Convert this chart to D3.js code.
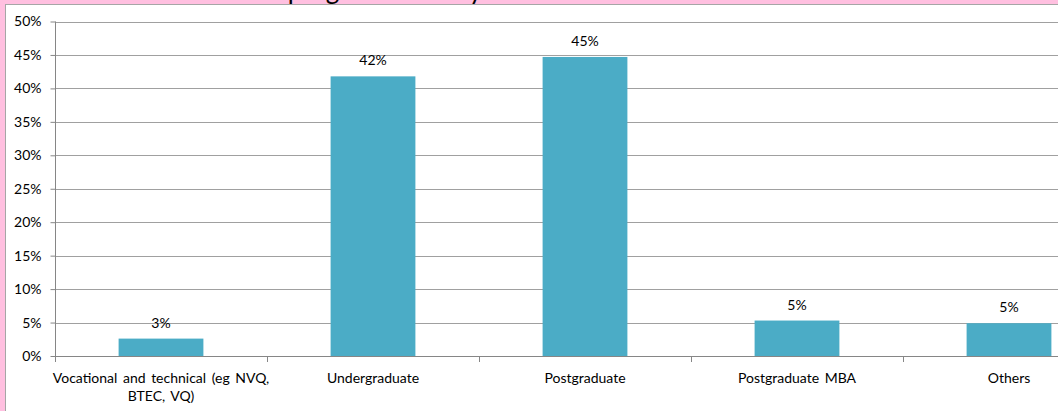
<!DOCTYPE html>
<html>
<head>
<meta charset="utf-8">
<script src="https://cdn.jsdelivr.net/npm/d3@7"></script>
<style>
  html, body { margin: 0; padding: 0; background: #FFC0E0; overflow: hidden; }
  svg { display: block; }
</style>
</head>
<body>
<svg id="chart" width="1058" height="411"></svg>
<script>
const titleText = "Current program of study";
const categories = ["Vocational and technical (eg NVQ, BTEC, VQ)", "Undergraduate", "Postgraduate", "Postgraduate MBA", "Others"];
const values = [0.026, 0.418, 0.447, 0.053, 0.049];
const valueLabels = ["3%", "42%", "45%", "5%", "5%"];
const yTicks = [0, 0.05, 0.10, 0.15, 0.20, 0.25, 0.30, 0.35, 0.40, 0.45, 0.50];

const FONT = "Lato, 'Open Sans', sans-serif";
const FS = 14;
const svg = d3.select("#chart");
const W = 1058, H = 411;

// chart area (white, with grey border)
svg.append("rect").attr("x", 5.5).attr("y", 4.5).attr("width", W + 20).attr("height", H + 20)
  .attr("fill", "#ffffff").attr("stroke", "#a6a6a6").attr("stroke-width", 1);

// title (mostly above the visible area, only descenders show, as in the reference)
const title = svg.append("text").attr("y", -1).attr("font-family", FONT).attr("font-size", 26).attr("fill", "#000");
const pre = title.append("tspan").text("Current ");
const preW = pre.node().getComputedTextLength();
title.append("tspan").text("program of study");
title.attr("x", 281 - preW);

const left = 55, step = 212, n = categories.length;
const x = d3.scaleBand().domain(categories).range([left, left + step * n]).paddingInner(0.6).paddingOuter(0.3);
const y = d3.scaleLinear().domain([0, 0.5]).range([356, 21.5]);

// gridlines
svg.append("g").selectAll("line").data(yTicks.filter(d => d > 0)).join("line")
  .attr("x1", left).attr("x2", W + 10)
  .attr("y1", d => Math.round(y(d)) + 0.5).attr("y2", d => Math.round(y(d)) + 0.5)
  .attr("stroke", "#a0a0a0").attr("stroke-width", 1);

// bars
svg.append("g").selectAll("rect").data(categories).join("rect")
  .attr("x", d => x(d)).attr("width", x.bandwidth())
  .attr("y", (d, i) => y(values[i])).attr("height", (d, i) => y(0) - y(values[i]))
  .attr("fill", "#4BACC6");

// value labels
svg.append("g").selectAll("text").data(categories).join("text")
  .attr("x", d => x(d) + x.bandwidth() / 2)
  .attr("y", (d, i) => y(values[i]) - 11)
  .attr("text-anchor", "middle").attr("font-family", FONT).attr("font-size", FS).attr("fill", "#000")
  .text((d, i) => valueLabels[i]);

// y axis
const yAxis = d3.axisLeft(y).tickValues(yTicks).tickFormat(d3.format(".0%")).tickSize(5).tickPadding(9);
const gy = svg.append("g").attr("transform", `translate(${left + 0.5},0)`).call(yAxis);
gy.select(".domain").attr("stroke", "#868686").attr("d", `M0,${y(0.5)}V${y(0)}`);
gy.selectAll(".tick line").attr("stroke", "#868686");
gy.selectAll(".tick text").attr("font-family", FONT).attr("font-size", FS).attr("fill", "#000");

// x axis line and boundary ticks
const boundaries = d3.range(n + 1).map(i => left + step * i);
svg.append("line").attr("x1", left).attr("x2", W + 10).attr("y1", Math.round(y(0)) + 0.5).attr("y2", Math.round(y(0)) + 0.5)
  .attr("stroke", "#868686");
svg.append("g").selectAll("line").data(boundaries).join("line")
  .attr("x1", d => d + 0.5).attr("x2", d => d + 0.5)
  .attr("y1", Math.round(y(0))).attr("y2", Math.round(y(0)) + 6)
  .attr("stroke", "#868686");

// category labels with wrapping
const catG = svg.append("g");
categories.forEach(c => {
  const cx = x(c) + x.bandwidth() / 2;
  const t = catG.append("text").attr("x", cx).attr("y", 383)
    .attr("text-anchor", "middle").attr("font-family", FONT).attr("font-size", FS).attr("fill", "#000")
    .attr("word-spacing", 2);
  const words = c.split(" ");
  let line = [];
  let ts = t.append("tspan").attr("x", cx).attr("dy", 0);
  words.forEach(w => {
    line.push(w);
    ts.text(line.join(" "));
    if (ts.node().getComputedTextLength() > 240 && line.length > 1) {
      line.pop();
      ts.text(line.join(" "));
      line = [w];
      ts = t.append("tspan").attr("x", cx).attr("dy", 18).text(w);
    }
  });
});
</script>
</body>
</html>
